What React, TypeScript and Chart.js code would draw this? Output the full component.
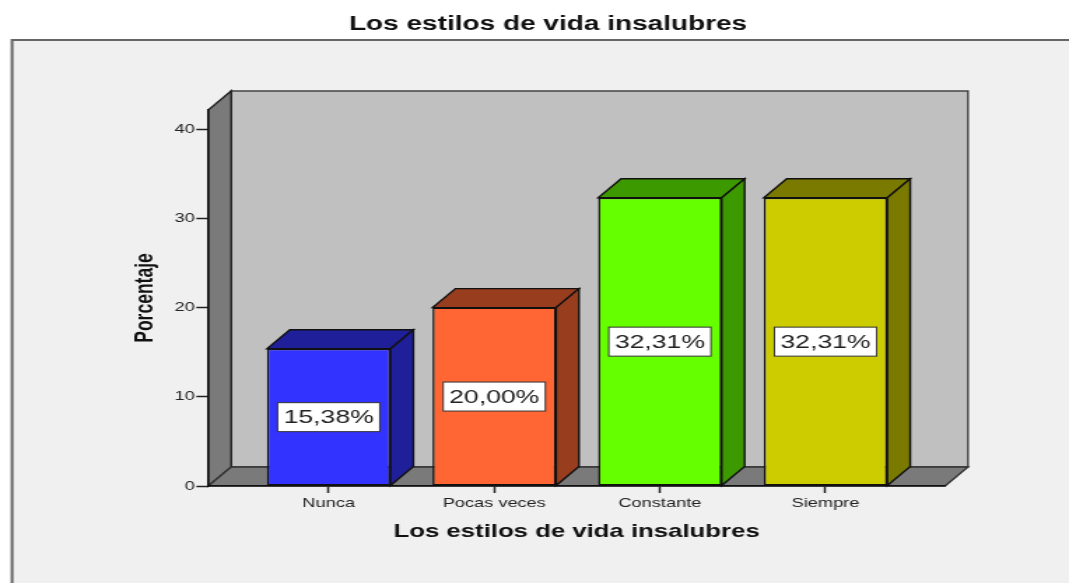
import React, { useEffect, useRef } from 'react';
import { Chart, registerables } from 'chart.js';

Chart.register(...registerables);

// ---- data ----
const chartTitle = 'Los estilos de vida insalubres';
const xAxisTitle = 'Los estilos de vida insalubres';
const yAxisTitle = 'Porcentaje';
const categories = ['Nunca', 'Pocas veces', 'Constante', 'Siempre'];
const percentages = [15.38, 20.0, 32.31, 32.31];
const yTickValues = [0, 10, 20, 30, 40];
const frontColors = ['#3333ff', '#ff6633', '#66ff00', '#cccc00'];
const shadeColors = ['#1f1f99', '#993d1f', '#3d9900', '#7a7a00'];

// ---- layout (internal canvas is drawn narrower, then stretched like the source image) ----
const CANVAS_W = 764;
const CANVAS_H = 583;
const FONT = "'Liberation Sans', Arial, sans-serif";
const DX = 16.4; // 3D depth (x)
const DY = 19; // 3D depth (y)

const poly = (ctx: CanvasRenderingContext2D, pts: number[][], fill: string, stroke: string, lw: number) => {
  ctx.beginPath();
  ctx.moveTo(pts[0][0], pts[0][1]);
  for (let i = 1; i < pts.length; i++) ctx.lineTo(pts[i][0], pts[i][1]);
  ctx.closePath();
  ctx.fillStyle = fill;
  ctx.fill();
  ctx.strokeStyle = stroke;
  ctx.lineWidth = lw;
  ctx.stroke();
};

const threeD = {
  id: 'threeD',
  beforeDraw(chart: any) {
    const { ctx, chartArea, width, height } = chart;
    ctx.save();
    ctx.fillStyle = '#ffffff';
    ctx.fillRect(0, 0, width, height);
    ctx.fillStyle = '#f0f0f0';
    ctx.fillRect(8.6, 40, width, height);
    ctx.strokeStyle = '#666666';
    ctx.lineWidth = 2;
    ctx.beginPath();
    ctx.moveTo(8.6, height);
    ctx.lineTo(8.6, 40);
    ctx.lineTo(width, 40);
    ctx.stroke();

    const { left: l, right: r, top: t, bottom: b } = chartArea;
    ctx.lineJoin = 'miter';
    poly(ctx, [[l + DX, t - DY], [r + DX, t - DY], [r + DX, b - DY], [l + DX, b - DY]], '#c0c0c0', '#444444', 1.4);
    poly(ctx, [[l, b], [l, t], [l + DX, t - DY], [l + DX, b - DY]], '#7a7a7a', '#222222', 1.4);
    poly(ctx, [[l, b], [r, b], [r + DX, b - DY], [l + DX, b - DY]], '#7a7a7a', '#333333', 1.4);
    ctx.restore();
  },
  beforeDatasetsDraw(chart: any) {
    const { ctx } = chart;
    const meta = chart.getDatasetMeta(0);
    ctx.save();
    ctx.lineJoin = 'miter';
    meta.data.forEach((el: any, i: number) => {
      const { x, y, base, width } = el.getProps(['x', 'y', 'base', 'width'], true);
      const x0 = x - width / 2;
      const x1 = x + width / 2;
      poly(ctx, [[x0, y], [x1, y], [x1 + DX, y - DY], [x0 + DX, y - DY]], shadeColors[i], '#111111', 1.4);
      poly(ctx, [[x1, y], [x1, base], [x1 + DX, base - DY], [x1 + DX, y - DY]], shadeColors[i], '#111111', 1.4);
    });
    ctx.restore();
  },
  afterDatasetsDraw(chart: any) {
    const { ctx } = chart;
    const meta = chart.getDatasetMeta(0);
    ctx.save();
    ctx.font = `19px ${FONT}`;
    ctx.textAlign = 'center';
    ctx.textBaseline = 'middle';
    meta.data.forEach((el: any, i: number) => {
      const { x, y, base } = el.getProps(['x', 'y', 'base'], true);
      const text = percentages[i].toFixed(2).replace('.', ',') + '%';
      const tw = ctx.measureText(text).width;
      const bw = tw + 8.6;
      const bh = 29;
      const cy = (y + base) / 2;
      ctx.fillStyle = '#ffffff';
      ctx.fillRect(x - bw / 2, cy - bh / 2, bw, bh);
      ctx.strokeStyle = '#333333';
      ctx.lineWidth = 1;
      ctx.strokeRect(x - bw / 2, cy - bh / 2, bw, bh);
      ctx.fillStyle = '#222222';
      ctx.fillText(text, x, cy + 1);
    });
    ctx.restore();
  },
};

export default function App() {
  const ref = useRef<HTMLCanvasElement>(null);

  useEffect(() => {
    const canvas = ref.current;
    if (!canvas) return;
    const chart = new Chart(canvas, {
      type: 'bar',
      data: {
        datasets: [
          {
            data: categories.map((_, i) => ({ x: i, y: percentages[i] })),
            backgroundColor: frontColors,
            borderColor: '#111111',
            borderWidth: 1.5,
            borderSkipped: false,
            barPercentage: 0.746,
            categoryPercentage: 1,
          } as any,
        ],
      },
      options: {
        responsive: false,
        animation: false,
        devicePixelRatio: 1,
        layout: { padding: { left: 107.9, right: 88.6, top: 0, bottom: 0 } },
        plugins: {
          legend: { display: false },
          tooltip: { enabled: false },
          title: {
            display: true,
            text: chartTitle,
            color: '#111111',
            font: { family: FONT, size: 20, weight: 'bold' },
            padding: { top: 12.1, bottom: 73.9 },
          },
        },
        scales: {
          x: {
            type: 'linear',
            offset: false,
            min: -0.7274,
            max: 3.7218,
            afterBuildTicks: (s: any) => {
              s.ticks = categories.map((_, i) => ({ value: i }));
            },
            afterFit: (s: any) => {
              s.height = 97;
            },
            ticks: {
              callback: (v: any) => categories[v] ?? '',
              color: '#222222',
              font: { family: FONT, size: 13 },
              padding: 2.5,
              maxRotation: 0,
              autoSkip: false,
            },
            grid: {
              display: true,
              offset: false,
              drawOnChartArea: false,
              drawTicks: true,
              tickLength: 7,
              tickColor: '#222222',
              tickWidth: 1.5,
            },
            border: { display: true, color: '#111111', width: 1.5 },
            title: {
              display: true,
              text: xAxisTitle,
              color: '#111111',
              font: { family: FONT, size: 18.4, weight: 'bold' },
              padding: { top: 0, bottom: 39.8 },
            },
          },
          y: {
            type: 'linear',
            min: 0,
            max: 42.15,
            afterBuildTicks: (s: any) => {
              s.ticks = yTickValues.map((v) => ({ value: v }));
            },
            afterFit: (s: any) => {
              s.width = 40.9;
            },
            ticks: {
              color: '#222222',
              font: { family: FONT, size: 13 },
              padding: 1,
            },
            grid: {
              display: true,
              drawOnChartArea: false,
              drawTicks: true,
              tickLength: 8.5,
              tickColor: '#222222',
              tickWidth: 1.5,
            },
            border: { display: true, color: '#111111', width: 1.5 },
            title: {
              display: true,
              text: yAxisTitle,
              color: '#111111',
              font: { family: FONT, size: 17.5, weight: 'bold' },
              padding: { top: -14.5, bottom: 0 },
            },
          },
        },
      } as any,
      plugins: [threeD],
    });
    return () => chart.destroy();
  }, []);

  return (
    <div style={{ position: 'absolute', left: 0, top: 0, width: 1069, height: 583 }}>
      <canvas
        ref={ref}
        width={CANVAS_W}
        height={CANVAS_H}
        style={{ width: '1069px', height: '583px', display: 'block' }}
      />
    </div>
  );
}
